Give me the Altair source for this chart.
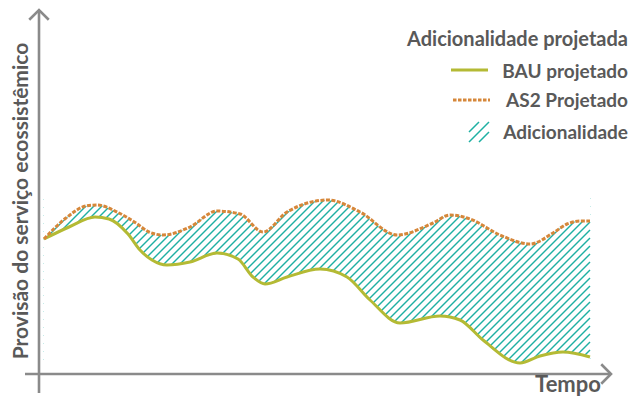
import altair as alt
import pandas as pd

# ---- data (arbitrary units) ----
tempo_as2 = [0, 22, 42, 53, 75, 92, 105, 119, 146, 173, 196, 219, 243, 284, 316, 353, 389, 406, 426, 456, 486, 509, 523, 536, 546]
prov_as2 = [135, 156, 168, 169, 161, 151, 142, 139, 147, 163, 160, 142, 162, 174, 162, 139, 151, 159, 155, 139, 130, 141, 150, 153, 153]

tempo_bau = [0, 25, 51, 65, 84, 96, 108, 123, 146, 173, 194, 209, 221, 243, 276, 303, 326, 356, 396, 416, 439, 476, 496, 519, 546]
prov_bau = [135, 147, 157, 155, 140, 124, 114, 109, 112, 121, 115, 97, 90, 97, 105, 97, 74, 51, 58, 54, 34, 11, 18, 22, 17]

legend_title = "Adicionalidade projetada"
legend_labels = ["BAU projetado", "AS2 Projetado", "Adicionalidade"]
x_title = "Tempo"
y_title = "Provisão do serviço ecossistêmico"

# ---- styles ----
OLIVE = "#b4ba34"
ORANGE = "#d6873a"
TEAL = "#1fb0a3"
AXIS = "#8a8a8a"
TXT = "#595959"
FONT = "Lato"
W, H = 620, 388
Y_LO, Y_HI = -22, 366

as2 = pd.DataFrame({"t": tempo_as2, "v": prov_as2})
as2["edge"] = Y_HI
bau = pd.DataFrame({"t": tempo_bau, "v": prov_bau})
bau["edge"] = Y_LO

# hatch lines (45 deg) across the band's bounding box, later masked outside the band
t_min, t_max = min(tempo_bau), max(tempo_bau)
v_min, v_max = min(prov_bau) - 3, max(prov_as2) + 3
step = 8
rows = []
b = v_min - t_max
while b <= v_max - t_min:
    ts = max(t_min, v_min - b)
    te = min(t_max, v_max - b)
    if ts < te:
        rows.append({"t": ts, "v": ts + b, "t2": te, "v2": te + b})
    b += step
hatch_df = pd.DataFrame(rows)

xs = alt.Scale(domain=[-36, 584], nice=False, zero=False)
ys = alt.Scale(domain=[Y_LO, Y_HI], nice=False, zero=False)
X = alt.X("t:Q", scale=xs, axis=None)
Y = alt.Y("v:Q", scale=ys, axis=None, stack=None)

dummy = pd.DataFrame({"d": [0]})

hatch = alt.Chart(hatch_df).mark_rule(color=TEAL, strokeWidth=1.4).encode(
    x=X, y=Y, x2="t2:Q", y2="v2:Q")
mask_top = alt.Chart(as2).mark_area(color="white", opacity=1, interpolate="monotone").encode(
    x=X, y=Y, y2="edge:Q")
mask_bot = alt.Chart(bau).mark_area(color="white", opacity=1, interpolate="monotone").encode(
    x=X, y=Y, y2="edge:Q")
bau_line = alt.Chart(bau).mark_line(color=OLIVE, strokeWidth=3, interpolate="monotone").encode(x=X, y=Y)
as2_line = alt.Chart(as2).mark_line(color=ORANGE, strokeWidth=3, strokeDash=[4, 1.5],
                                    interpolate="monotone").encode(x=X, y=Y)

y_axis = alt.Chart(dummy).mark_rule(color=AXIS, strokeWidth=2.6).encode(
    x=alt.value(31), y=alt.value(2), y2=alt.value(385))
x_axis = alt.Chart(dummy).mark_rule(color=AXIS, strokeWidth=2.6).encode(
    x=alt.value(17), x2=alt.value(603), y=alt.value(366))
up_arrow = alt.Chart(dummy).mark_point(shape="M-1,1L0,0L1,1", filled=False, size=380,
                                       strokeWidth=2.6, color=AXIS, opacity=1).encode(
    x=alt.value(31), y=alt.value(2))
right_arrow = alt.Chart(dummy).mark_point(shape="M-1,-1L0,0L-1,1", filled=False, size=380,
                                          strokeWidth=2.6, color=AXIS, opacity=1).encode(
    x=alt.value(603), y=alt.value(366))

y_lab = alt.Chart(dummy).mark_text(text=y_title, angle=270, font=FONT, fontWeight="bold",
                                   fontSize=21, color=TXT, align="center", baseline="middle").encode(
    x=alt.value(14), y=alt.value(193))
x_lab = alt.Chart(dummy).mark_text(text=x_title, font=FONT, fontWeight="bold", fontSize=22,
                                   color=TXT, align="center", baseline="alphabetic").encode(
    x=alt.value(560), y=alt.value(384))

leg_title = alt.Chart(dummy).mark_text(text=legend_title, font=FONT, fontWeight="bold", fontSize=20,
                                       color=TXT, align="right", baseline="alphabetic").encode(
    x=alt.value(620), y=alt.value(38))
leg_texts = []
for lab, yb in zip(legend_labels, [70, 99, 131]):
    leg_texts.append(alt.Chart(dummy).mark_text(text=lab, font=FONT, fontWeight="bold", fontSize=19,
                                                color=TXT, align="right", baseline="alphabetic").encode(
        x=alt.value(620), y=alt.value(yb)))
leg_bau = alt.Chart(dummy).mark_rule(color=OLIVE, strokeWidth=3).encode(
    x=alt.value(443), x2=alt.value(480), y=alt.value(62))
leg_as2 = alt.Chart(dummy).mark_rule(color=ORANGE, strokeWidth=3, strokeDash=[3.5, 1.5]).encode(
    x=alt.value(445), x2=alt.value(482), y=alt.value(92))
leg_hatch = alt.Chart(dummy).mark_point(shape="M-1,0L0,-1M-1,1L1,-1M0,1L1,0", filled=False, size=400,
                                        strokeWidth=1.5, color=TEAL, opacity=1).encode(
    x=alt.value(471), y=alt.value(124))

chart = alt.layer(
    hatch, mask_top, mask_bot, bau_line, as2_line,
    y_axis, x_axis, up_arrow, right_arrow, y_lab, x_lab,
    leg_title, *leg_texts, leg_bau, leg_as2, leg_hatch
).properties(
    width=W, height=H, padding=0, autosize=alt.AutoSizeParams(type="none")
).configure_view(stroke=None)

chart.save("out.html", embed_options={"renderer": "svg", "actions": False})
